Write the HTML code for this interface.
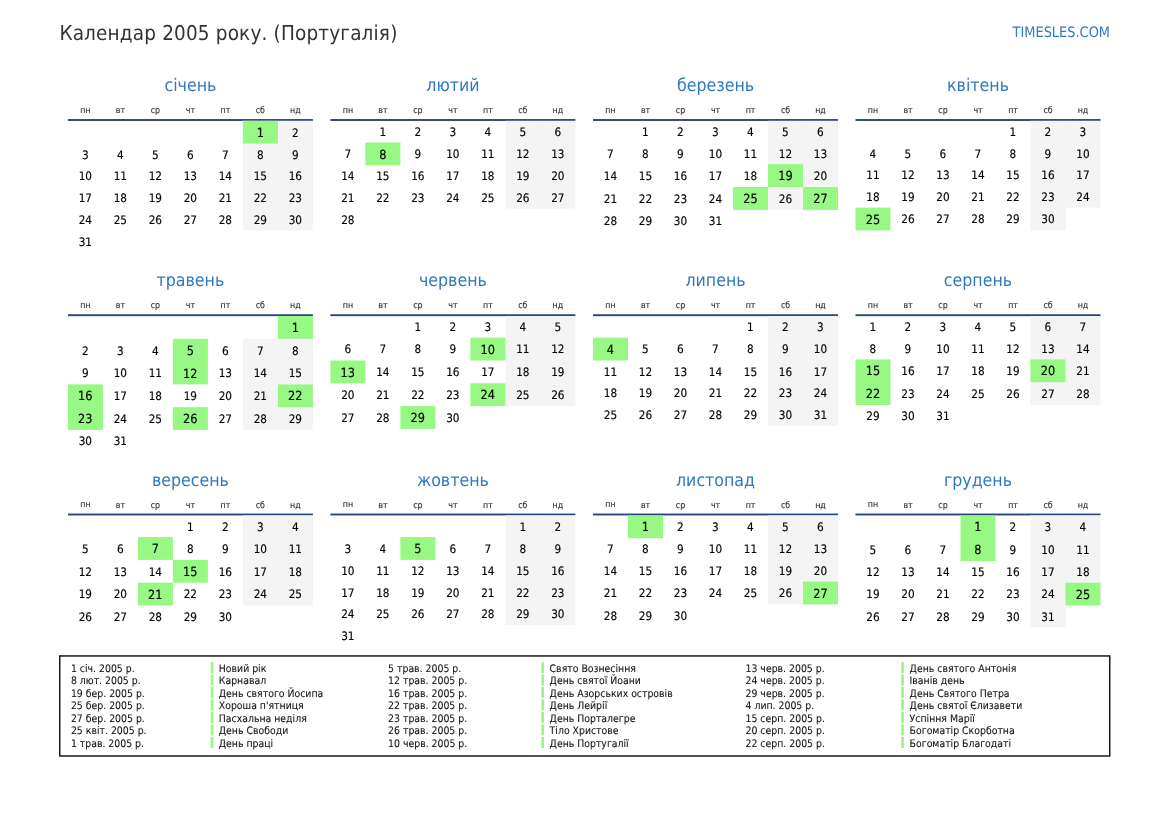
<!DOCTYPE html>
<html lang="uk"><head><meta charset="utf-8"><title>Календар 2005 року. (Португалія)</title>
<style>
html,body{margin:0;padding:0;background:#fff}
body{width:1169px;height:827px;position:relative;overflow:hidden;font-family:"DejaVu Sans Condensed", "DejaVu Sans", "Liberation Sans", sans-serif;font-stretch:condensed;text-rendering:geometricPrecision}
.t{position:absolute;white-space:nowrap;line-height:0;margin:0;padding:0}
.t::before{content:"";display:inline-block;height:24px;width:0;vertical-align:baseline}
.c{text-align:center}
.r{position:absolute}
.ttl{font-size:20.5px;color:#333;letter-spacing:.17px}
.site{font-size:14.4px;color:#2f79c0}
.mn{font-size:17.6px;color:#2f79c0}
.wd{font-size:8.75px;color:#333;-webkit-text-stroke:0.15px #333}
.d{font-size:11.67px;color:#000;-webkit-text-stroke:0.15px #000}
.h{font-size:12.6px;color:#000;-webkit-text-stroke:0.15px #000}
.l{font-size:10.4px;color:#111;-webkit-text-stroke:0.08px #111}
.ln{height:1.9px;background:#27467f}
.g{background:#97f884}
.w{background:#f4f4f4}
</style></head><body>
<svg class="r" style="left:0;top:0" width="1169" height="827" viewBox="0 0 1169 827"><rect x="67.90" y="119.05" width="245.00" height="1.9" fill="#27467f"/><rect x="242.90" y="120.80" width="35.60" height="109.60" fill="#f4f4f4"/><rect x="277.90" y="120.80" width="35.00" height="109.60" fill="#f4f4f4"/><rect x="242.90" y="120.80" width="35.00" height="22.80" fill="#97f884"/><rect x="330.40" y="119.05" width="245.00" height="1.9" fill="#27467f"/><rect x="505.40" y="120.80" width="35.60" height="87.90" fill="#f4f4f4"/><rect x="540.40" y="120.80" width="35.00" height="87.90" fill="#f4f4f4"/><rect x="365.40" y="142.50" width="35.00" height="22.80" fill="#97f884"/><rect x="593.00" y="119.05" width="245.00" height="1.9" fill="#27467f"/><rect x="768.00" y="120.80" width="35.60" height="89.00" fill="#f4f4f4"/><rect x="803.00" y="120.80" width="35.00" height="89.00" fill="#f4f4f4"/><rect x="733.00" y="187.00" width="35.00" height="22.80" fill="#97f884"/><rect x="768.00" y="164.20" width="35.00" height="22.80" fill="#97f884"/><rect x="803.00" y="187.00" width="35.00" height="22.80" fill="#97f884"/><rect x="855.50" y="119.05" width="245.00" height="1.9" fill="#27467f"/><rect x="1030.50" y="120.80" width="35.60" height="109.60" fill="#f4f4f4"/><rect x="1065.50" y="120.80" width="35.00" height="86.80" fill="#f4f4f4"/><rect x="855.50" y="207.60" width="35.00" height="22.80" fill="#97f884"/><rect x="67.90" y="314.25" width="245.00" height="1.9" fill="#27467f"/><rect x="242.90" y="338.80" width="35.60" height="91.20" fill="#f4f4f4"/><rect x="277.90" y="316.00" width="35.00" height="114.00" fill="#f4f4f4"/><rect x="67.90" y="384.40" width="35.00" height="45.60" fill="#97f884"/><rect x="172.90" y="338.80" width="35.00" height="45.60" fill="#97f884"/><rect x="172.90" y="407.20" width="35.00" height="22.80" fill="#97f884"/><rect x="277.90" y="316.00" width="35.00" height="22.80" fill="#97f884"/><rect x="277.90" y="384.40" width="35.00" height="22.80" fill="#97f884"/><rect x="330.40" y="314.25" width="245.00" height="1.9" fill="#27467f"/><rect x="505.40" y="316.00" width="35.60" height="90.10" fill="#f4f4f4"/><rect x="540.40" y="316.00" width="35.00" height="90.10" fill="#f4f4f4"/><rect x="330.40" y="360.50" width="35.00" height="22.80" fill="#97f884"/><rect x="400.40" y="406.10" width="35.00" height="22.80" fill="#97f884"/><rect x="470.40" y="337.70" width="35.00" height="22.80" fill="#97f884"/><rect x="470.40" y="383.30" width="35.00" height="22.80" fill="#97f884"/><rect x="593.00" y="314.25" width="245.00" height="1.9" fill="#27467f"/><rect x="768.00" y="316.00" width="35.60" height="109.60" fill="#f4f4f4"/><rect x="803.00" y="316.00" width="35.00" height="109.60" fill="#f4f4f4"/><rect x="593.00" y="337.70" width="35.00" height="22.80" fill="#97f884"/><rect x="855.50" y="314.25" width="245.00" height="1.9" fill="#27467f"/><rect x="1030.50" y="316.00" width="35.60" height="89.00" fill="#f4f4f4"/><rect x="1065.50" y="316.00" width="35.00" height="89.00" fill="#f4f4f4"/><rect x="855.50" y="359.40" width="35.00" height="45.60" fill="#97f884"/><rect x="1030.50" y="359.40" width="35.00" height="22.80" fill="#97f884"/><rect x="67.90" y="513.55" width="245.00" height="1.9" fill="#27467f"/><rect x="242.90" y="515.40" width="35.60" height="90.10" fill="#f4f4f4"/><rect x="277.90" y="515.40" width="35.00" height="90.10" fill="#f4f4f4"/><rect x="137.90" y="537.10" width="35.00" height="22.80" fill="#97f884"/><rect x="137.90" y="582.70" width="35.00" height="22.80" fill="#97f884"/><rect x="172.90" y="559.90" width="35.00" height="22.80" fill="#97f884"/><rect x="330.40" y="513.55" width="245.00" height="1.9" fill="#27467f"/><rect x="505.40" y="515.40" width="35.60" height="109.60" fill="#f4f4f4"/><rect x="540.40" y="515.40" width="35.00" height="109.60" fill="#f4f4f4"/><rect x="400.40" y="537.10" width="35.00" height="22.80" fill="#97f884"/><rect x="593.00" y="513.55" width="245.00" height="1.9" fill="#27467f"/><rect x="768.00" y="515.40" width="35.60" height="89.00" fill="#f4f4f4"/><rect x="803.00" y="515.40" width="35.00" height="89.00" fill="#f4f4f4"/><rect x="628.00" y="515.40" width="35.00" height="22.80" fill="#97f884"/><rect x="803.00" y="581.60" width="35.00" height="22.80" fill="#97f884"/><rect x="855.50" y="513.55" width="245.00" height="1.9" fill="#27467f"/><rect x="1030.50" y="515.40" width="35.60" height="111.80" fill="#f4f4f4"/><rect x="1065.50" y="515.40" width="35.00" height="90.10" fill="#f4f4f4"/><rect x="960.50" y="515.40" width="35.00" height="45.60" fill="#97f884"/><rect x="1065.50" y="582.70" width="35.00" height="22.80" fill="#97f884"/><rect x="59.75" y="655.95" width="1050" height="100.05" fill="none" stroke="#1a1a1a" stroke-width="1.5"/><rect x="210.70" y="662.20" width="2.7" height="11.0" fill="#97f884"/><rect x="210.70" y="674.50" width="2.7" height="11.0" fill="#97f884"/><rect x="210.70" y="686.90" width="2.7" height="11.0" fill="#97f884"/><rect x="210.70" y="699.40" width="2.7" height="11.0" fill="#97f884"/><rect x="210.70" y="712.00" width="2.7" height="11.0" fill="#97f884"/><rect x="210.70" y="724.40" width="2.7" height="11.0" fill="#97f884"/><rect x="210.70" y="737.00" width="2.7" height="11.0" fill="#97f884"/><rect x="541.40" y="662.20" width="2.7" height="11.0" fill="#97f884"/><rect x="541.40" y="674.50" width="2.7" height="11.0" fill="#97f884"/><rect x="541.40" y="686.90" width="2.7" height="11.0" fill="#97f884"/><rect x="541.40" y="699.40" width="2.7" height="11.0" fill="#97f884"/><rect x="541.40" y="712.00" width="2.7" height="11.0" fill="#97f884"/><rect x="541.40" y="724.40" width="2.7" height="11.0" fill="#97f884"/><rect x="541.40" y="737.00" width="2.7" height="11.0" fill="#97f884"/><rect x="901.20" y="662.20" width="2.7" height="11.0" fill="#97f884"/><rect x="901.20" y="674.50" width="2.7" height="11.0" fill="#97f884"/><rect x="901.20" y="686.90" width="2.7" height="11.0" fill="#97f884"/><rect x="901.20" y="699.40" width="2.7" height="11.0" fill="#97f884"/><rect x="901.20" y="712.00" width="2.7" height="11.0" fill="#97f884"/><rect x="901.20" y="724.40" width="2.7" height="11.0" fill="#97f884"/><rect x="901.20" y="737.00" width="2.7" height="11.0" fill="#97f884"/></svg>
<div class="t ttl" style="top:15.80px;left:59.40px">Календар 2005 року. (Португалія)</div>
<div class="t site" style="top:12.80px;right:59.00px">TIMESLES.COM</div>
<!-- січень -->
<div class="t mn c" style="top:66.70px;left:67.90px;width:245.00px">січень</div>
<div class="t wd c" style="top:88.70px;left:67.90px;width:35.00px">пн</div>
<div class="t wd c" style="top:88.70px;left:102.90px;width:35.00px">вт</div>
<div class="t wd c" style="top:88.70px;left:137.90px;width:35.00px">ср</div>
<div class="t wd c" style="top:88.70px;left:172.90px;width:35.00px">чт</div>
<div class="t wd c" style="top:88.70px;left:207.90px;width:35.00px">пт</div>
<div class="t wd c" style="top:88.70px;left:242.90px;width:35.00px">сб</div>
<div class="t wd c" style="top:88.70px;left:277.90px;width:35.00px">нд</div>
<div class="t h c" style="top:113.00px;left:242.80px;width:35.00px">1</div>
<div class="t d c" style="top:113.00px;left:277.80px;width:35.00px">2</div>
<div class="t d c" style="top:135.00px;left:67.80px;width:35.00px">3</div>
<div class="t d c" style="top:135.00px;left:102.80px;width:35.00px">4</div>
<div class="t d c" style="top:135.00px;left:137.80px;width:35.00px">5</div>
<div class="t d c" style="top:135.00px;left:172.80px;width:35.00px">6</div>
<div class="t d c" style="top:135.00px;left:207.80px;width:35.00px">7</div>
<div class="t d c" style="top:135.00px;left:242.80px;width:35.00px">8</div>
<div class="t d c" style="top:135.00px;left:277.80px;width:35.00px">9</div>
<div class="t d c" style="top:156.00px;left:67.80px;width:35.00px">10</div>
<div class="t d c" style="top:156.00px;left:102.80px;width:35.00px">11</div>
<div class="t d c" style="top:156.00px;left:137.80px;width:35.00px">12</div>
<div class="t d c" style="top:156.00px;left:172.80px;width:35.00px">13</div>
<div class="t d c" style="top:156.00px;left:207.80px;width:35.00px">14</div>
<div class="t d c" style="top:156.00px;left:242.80px;width:35.00px">15</div>
<div class="t d c" style="top:156.00px;left:277.80px;width:35.00px">16</div>
<div class="t d c" style="top:178.00px;left:67.80px;width:35.00px">17</div>
<div class="t d c" style="top:178.00px;left:102.80px;width:35.00px">18</div>
<div class="t d c" style="top:178.00px;left:137.80px;width:35.00px">19</div>
<div class="t d c" style="top:178.00px;left:172.80px;width:35.00px">20</div>
<div class="t d c" style="top:178.00px;left:207.80px;width:35.00px">21</div>
<div class="t d c" style="top:178.00px;left:242.80px;width:35.00px">22</div>
<div class="t d c" style="top:178.00px;left:277.80px;width:35.00px">23</div>
<div class="t d c" style="top:200.00px;left:67.80px;width:35.00px">24</div>
<div class="t d c" style="top:200.00px;left:102.80px;width:35.00px">25</div>
<div class="t d c" style="top:200.00px;left:137.80px;width:35.00px">26</div>
<div class="t d c" style="top:200.00px;left:172.80px;width:35.00px">27</div>
<div class="t d c" style="top:200.00px;left:207.80px;width:35.00px">28</div>
<div class="t d c" style="top:200.00px;left:242.80px;width:35.00px">29</div>
<div class="t d c" style="top:200.00px;left:277.80px;width:35.00px">30</div>
<div class="t d c" style="top:222.00px;left:67.80px;width:35.00px">31</div>
<!-- лютий -->
<div class="t mn c" style="top:66.70px;left:330.40px;width:245.00px">лютий</div>
<div class="t wd c" style="top:88.70px;left:330.40px;width:35.00px">пн</div>
<div class="t wd c" style="top:88.70px;left:365.40px;width:35.00px">вт</div>
<div class="t wd c" style="top:88.70px;left:400.40px;width:35.00px">ср</div>
<div class="t wd c" style="top:88.70px;left:435.40px;width:35.00px">чт</div>
<div class="t wd c" style="top:88.70px;left:470.40px;width:35.00px">пт</div>
<div class="t wd c" style="top:88.70px;left:505.40px;width:35.00px">сб</div>
<div class="t wd c" style="top:88.70px;left:540.40px;width:35.00px">нд</div>
<div class="t d c" style="top:112.00px;left:365.30px;width:35.00px">1</div>
<div class="t d c" style="top:112.00px;left:400.30px;width:35.00px">2</div>
<div class="t d c" style="top:112.00px;left:435.30px;width:35.00px">3</div>
<div class="t d c" style="top:112.00px;left:470.30px;width:35.00px">4</div>
<div class="t d c" style="top:112.00px;left:505.30px;width:35.00px">5</div>
<div class="t d c" style="top:112.00px;left:540.30px;width:35.00px">6</div>
<div class="t d c" style="top:134.00px;left:330.30px;width:35.00px">7</div>
<div class="t h c" style="top:135.00px;left:365.30px;width:35.00px">8</div>
<div class="t d c" style="top:134.00px;left:400.30px;width:35.00px">9</div>
<div class="t d c" style="top:134.00px;left:435.30px;width:35.00px">10</div>
<div class="t d c" style="top:134.00px;left:470.30px;width:35.00px">11</div>
<div class="t d c" style="top:134.00px;left:505.30px;width:35.00px">12</div>
<div class="t d c" style="top:134.00px;left:540.30px;width:35.00px">13</div>
<div class="t d c" style="top:156.00px;left:330.30px;width:35.00px">14</div>
<div class="t d c" style="top:156.00px;left:365.30px;width:35.00px">15</div>
<div class="t d c" style="top:156.00px;left:400.30px;width:35.00px">16</div>
<div class="t d c" style="top:156.00px;left:435.30px;width:35.00px">17</div>
<div class="t d c" style="top:156.00px;left:470.30px;width:35.00px">18</div>
<div class="t d c" style="top:156.00px;left:505.30px;width:35.00px">19</div>
<div class="t d c" style="top:156.00px;left:540.30px;width:35.00px">20</div>
<div class="t d c" style="top:178.00px;left:330.30px;width:35.00px">21</div>
<div class="t d c" style="top:178.00px;left:365.30px;width:35.00px">22</div>
<div class="t d c" style="top:178.00px;left:400.30px;width:35.00px">23</div>
<div class="t d c" style="top:178.00px;left:435.30px;width:35.00px">24</div>
<div class="t d c" style="top:178.00px;left:470.30px;width:35.00px">25</div>
<div class="t d c" style="top:178.00px;left:505.30px;width:35.00px">26</div>
<div class="t d c" style="top:178.00px;left:540.30px;width:35.00px">27</div>
<div class="t d c" style="top:200.00px;left:330.30px;width:35.00px">28</div>
<!-- березень -->
<div class="t mn c" style="top:66.70px;left:593.00px;width:245.00px">березень</div>
<div class="t wd c" style="top:88.70px;left:593.00px;width:35.00px">пн</div>
<div class="t wd c" style="top:88.70px;left:628.00px;width:35.00px">вт</div>
<div class="t wd c" style="top:88.70px;left:663.00px;width:35.00px">ср</div>
<div class="t wd c" style="top:88.70px;left:698.00px;width:35.00px">чт</div>
<div class="t wd c" style="top:88.70px;left:733.00px;width:35.00px">пт</div>
<div class="t wd c" style="top:88.70px;left:768.00px;width:35.00px">сб</div>
<div class="t wd c" style="top:88.70px;left:803.00px;width:35.00px">нд</div>
<div class="t d c" style="top:112.00px;left:627.90px;width:35.00px">1</div>
<div class="t d c" style="top:112.00px;left:662.90px;width:35.00px">2</div>
<div class="t d c" style="top:112.00px;left:697.90px;width:35.00px">3</div>
<div class="t d c" style="top:112.00px;left:732.90px;width:35.00px">4</div>
<div class="t d c" style="top:112.00px;left:767.90px;width:35.00px">5</div>
<div class="t d c" style="top:112.00px;left:802.90px;width:35.00px">6</div>
<div class="t d c" style="top:134.00px;left:592.90px;width:35.00px">7</div>
<div class="t d c" style="top:134.00px;left:627.90px;width:35.00px">8</div>
<div class="t d c" style="top:134.00px;left:662.90px;width:35.00px">9</div>
<div class="t d c" style="top:134.00px;left:697.90px;width:35.00px">10</div>
<div class="t d c" style="top:134.00px;left:732.90px;width:35.00px">11</div>
<div class="t d c" style="top:134.00px;left:767.90px;width:35.00px">12</div>
<div class="t d c" style="top:134.00px;left:802.90px;width:35.00px">13</div>
<div class="t d c" style="top:156.00px;left:592.90px;width:35.00px">14</div>
<div class="t d c" style="top:156.00px;left:627.90px;width:35.00px">15</div>
<div class="t d c" style="top:156.00px;left:662.90px;width:35.00px">16</div>
<div class="t d c" style="top:156.00px;left:697.90px;width:35.00px">17</div>
<div class="t d c" style="top:156.00px;left:732.90px;width:35.00px">18</div>
<div class="t h c" style="top:156.00px;left:767.90px;width:35.00px">19</div>
<div class="t d c" style="top:156.00px;left:802.90px;width:35.00px">20</div>
<div class="t d c" style="top:179.00px;left:592.90px;width:35.00px">21</div>
<div class="t d c" style="top:179.00px;left:627.90px;width:35.00px">22</div>
<div class="t d c" style="top:179.00px;left:662.90px;width:35.00px">23</div>
<div class="t d c" style="top:179.00px;left:697.90px;width:35.00px">24</div>
<div class="t h c" style="top:179.00px;left:732.90px;width:35.00px">25</div>
<div class="t d c" style="top:179.00px;left:767.90px;width:35.00px">26</div>
<div class="t h c" style="top:179.00px;left:802.90px;width:35.00px">27</div>
<div class="t d c" style="top:201.00px;left:592.90px;width:35.00px">28</div>
<div class="t d c" style="top:201.00px;left:627.90px;width:35.00px">29</div>
<div class="t d c" style="top:201.00px;left:662.90px;width:35.00px">30</div>
<div class="t d c" style="top:201.00px;left:697.90px;width:35.00px">31</div>
<!-- квітень -->
<div class="t mn c" style="top:66.70px;left:855.50px;width:245.00px">квітень</div>
<div class="t wd c" style="top:88.70px;left:855.50px;width:35.00px">пн</div>
<div class="t wd c" style="top:88.70px;left:890.50px;width:35.00px">вт</div>
<div class="t wd c" style="top:88.70px;left:925.50px;width:35.00px">ср</div>
<div class="t wd c" style="top:88.70px;left:960.50px;width:35.00px">чт</div>
<div class="t wd c" style="top:88.70px;left:995.50px;width:35.00px">пт</div>
<div class="t wd c" style="top:88.70px;left:1030.50px;width:35.00px">сб</div>
<div class="t wd c" style="top:88.70px;left:1065.50px;width:35.00px">нд</div>
<div class="t d c" style="top:112.00px;left:995.40px;width:35.00px">1</div>
<div class="t d c" style="top:112.00px;left:1030.40px;width:35.00px">2</div>
<div class="t d c" style="top:112.00px;left:1065.40px;width:35.00px">3</div>
<div class="t d c" style="top:134.00px;left:855.40px;width:35.00px">4</div>
<div class="t d c" style="top:134.00px;left:890.40px;width:35.00px">5</div>
<div class="t d c" style="top:134.00px;left:925.40px;width:35.00px">6</div>
<div class="t d c" style="top:134.00px;left:960.40px;width:35.00px">7</div>
<div class="t d c" style="top:134.00px;left:995.40px;width:35.00px">8</div>
<div class="t d c" style="top:134.00px;left:1030.40px;width:35.00px">9</div>
<div class="t d c" style="top:134.00px;left:1065.40px;width:35.00px">10</div>
<div class="t d c" style="top:155.00px;left:855.40px;width:35.00px">11</div>
<div class="t d c" style="top:155.00px;left:890.40px;width:35.00px">12</div>
<div class="t d c" style="top:155.00px;left:925.40px;width:35.00px">13</div>
<div class="t d c" style="top:155.00px;left:960.40px;width:35.00px">14</div>
<div class="t d c" style="top:155.00px;left:995.40px;width:35.00px">15</div>
<div class="t d c" style="top:155.00px;left:1030.40px;width:35.00px">16</div>
<div class="t d c" style="top:155.00px;left:1065.40px;width:35.00px">17</div>
<div class="t d c" style="top:177.00px;left:855.40px;width:35.00px">18</div>
<div class="t d c" style="top:177.00px;left:890.40px;width:35.00px">19</div>
<div class="t d c" style="top:177.00px;left:925.40px;width:35.00px">20</div>
<div class="t d c" style="top:177.00px;left:960.40px;width:35.00px">21</div>
<div class="t d c" style="top:177.00px;left:995.40px;width:35.00px">22</div>
<div class="t d c" style="top:177.00px;left:1030.40px;width:35.00px">23</div>
<div class="t d c" style="top:177.00px;left:1065.40px;width:35.00px">24</div>
<div class="t h c" style="top:200.00px;left:855.40px;width:35.00px">25</div>
<div class="t d c" style="top:199.00px;left:890.40px;width:35.00px">26</div>
<div class="t d c" style="top:199.00px;left:925.40px;width:35.00px">27</div>
<div class="t d c" style="top:199.00px;left:960.40px;width:35.00px">28</div>
<div class="t d c" style="top:199.00px;left:995.40px;width:35.00px">29</div>
<div class="t d c" style="top:199.00px;left:1030.40px;width:35.00px">30</div>
<!-- травень -->
<div class="t mn c" style="top:261.90px;left:67.90px;width:245.00px">травень</div>
<div class="t wd c" style="top:283.80px;left:67.90px;width:35.00px">пн</div>
<div class="t wd c" style="top:283.80px;left:102.90px;width:35.00px">вт</div>
<div class="t wd c" style="top:283.80px;left:137.90px;width:35.00px">ср</div>
<div class="t wd c" style="top:283.80px;left:172.90px;width:35.00px">чт</div>
<div class="t wd c" style="top:283.80px;left:207.90px;width:35.00px">пт</div>
<div class="t wd c" style="top:283.80px;left:242.90px;width:35.00px">сб</div>
<div class="t wd c" style="top:283.80px;left:277.90px;width:35.00px">нд</div>
<div class="t h c" style="top:308.00px;left:277.80px;width:35.00px">1</div>
<div class="t d c" style="top:331.00px;left:67.80px;width:35.00px">2</div>
<div class="t d c" style="top:331.00px;left:102.80px;width:35.00px">3</div>
<div class="t d c" style="top:331.00px;left:137.80px;width:35.00px">4</div>
<div class="t h c" style="top:331.00px;left:172.80px;width:35.00px">5</div>
<div class="t d c" style="top:331.00px;left:207.80px;width:35.00px">6</div>
<div class="t d c" style="top:331.00px;left:242.80px;width:35.00px">7</div>
<div class="t d c" style="top:331.00px;left:277.80px;width:35.00px">8</div>
<div class="t d c" style="top:353.00px;left:67.80px;width:35.00px">9</div>
<div class="t d c" style="top:353.00px;left:102.80px;width:35.00px">10</div>
<div class="t d c" style="top:353.00px;left:137.80px;width:35.00px">11</div>
<div class="t h c" style="top:354.00px;left:172.80px;width:35.00px">12</div>
<div class="t d c" style="top:353.00px;left:207.80px;width:35.00px">13</div>
<div class="t d c" style="top:353.00px;left:242.80px;width:35.00px">14</div>
<div class="t d c" style="top:353.00px;left:277.80px;width:35.00px">15</div>
<div class="t h c" style="top:376.00px;left:67.80px;width:35.00px">16</div>
<div class="t d c" style="top:376.00px;left:102.80px;width:35.00px">17</div>
<div class="t d c" style="top:376.00px;left:137.80px;width:35.00px">18</div>
<div class="t d c" style="top:376.00px;left:172.80px;width:35.00px">19</div>
<div class="t d c" style="top:376.00px;left:207.80px;width:35.00px">20</div>
<div class="t d c" style="top:376.00px;left:242.80px;width:35.00px">21</div>
<div class="t h c" style="top:376.00px;left:277.80px;width:35.00px">22</div>
<div class="t h c" style="top:399.00px;left:67.80px;width:35.00px">23</div>
<div class="t d c" style="top:399.00px;left:102.80px;width:35.00px">24</div>
<div class="t d c" style="top:399.00px;left:137.80px;width:35.00px">25</div>
<div class="t h c" style="top:399.00px;left:172.80px;width:35.00px">26</div>
<div class="t d c" style="top:399.00px;left:207.80px;width:35.00px">27</div>
<div class="t d c" style="top:399.00px;left:242.80px;width:35.00px">28</div>
<div class="t d c" style="top:399.00px;left:277.80px;width:35.00px">29</div>
<div class="t d c" style="top:421.00px;left:67.80px;width:35.00px">30</div>
<div class="t d c" style="top:421.00px;left:102.80px;width:35.00px">31</div>
<!-- червень -->
<div class="t mn c" style="top:261.90px;left:330.40px;width:245.00px">червень</div>
<div class="t wd c" style="top:283.80px;left:330.40px;width:35.00px">пн</div>
<div class="t wd c" style="top:283.80px;left:365.40px;width:35.00px">вт</div>
<div class="t wd c" style="top:283.80px;left:400.40px;width:35.00px">ср</div>
<div class="t wd c" style="top:283.80px;left:435.40px;width:35.00px">чт</div>
<div class="t wd c" style="top:283.80px;left:470.40px;width:35.00px">пт</div>
<div class="t wd c" style="top:283.80px;left:505.40px;width:35.00px">сб</div>
<div class="t wd c" style="top:283.80px;left:540.40px;width:35.00px">нд</div>
<div class="t d c" style="top:307.00px;left:400.30px;width:35.00px">1</div>
<div class="t d c" style="top:307.00px;left:435.30px;width:35.00px">2</div>
<div class="t d c" style="top:307.00px;left:470.30px;width:35.00px">3</div>
<div class="t d c" style="top:307.00px;left:505.30px;width:35.00px">4</div>
<div class="t d c" style="top:307.00px;left:540.30px;width:35.00px">5</div>
<div class="t d c" style="top:329.00px;left:330.30px;width:35.00px">6</div>
<div class="t d c" style="top:329.00px;left:365.30px;width:35.00px">7</div>
<div class="t d c" style="top:329.00px;left:400.30px;width:35.00px">8</div>
<div class="t d c" style="top:329.00px;left:435.30px;width:35.00px">9</div>
<div class="t h c" style="top:330.00px;left:470.30px;width:35.00px">10</div>
<div class="t d c" style="top:329.00px;left:505.30px;width:35.00px">11</div>
<div class="t d c" style="top:329.00px;left:540.30px;width:35.00px">12</div>
<div class="t h c" style="top:353.00px;left:330.30px;width:35.00px">13</div>
<div class="t d c" style="top:352.00px;left:365.30px;width:35.00px">14</div>
<div class="t d c" style="top:352.00px;left:400.30px;width:35.00px">15</div>
<div class="t d c" style="top:352.00px;left:435.30px;width:35.00px">16</div>
<div class="t d c" style="top:352.00px;left:470.30px;width:35.00px">17</div>
<div class="t d c" style="top:352.00px;left:505.30px;width:35.00px">18</div>
<div class="t d c" style="top:352.00px;left:540.30px;width:35.00px">19</div>
<div class="t d c" style="top:375.00px;left:330.30px;width:35.00px">20</div>
<div class="t d c" style="top:375.00px;left:365.30px;width:35.00px">21</div>
<div class="t d c" style="top:375.00px;left:400.30px;width:35.00px">22</div>
<div class="t d c" style="top:375.00px;left:435.30px;width:35.00px">23</div>
<div class="t h c" style="top:375.00px;left:470.30px;width:35.00px">24</div>
<div class="t d c" style="top:375.00px;left:505.30px;width:35.00px">25</div>
<div class="t d c" style="top:375.00px;left:540.30px;width:35.00px">26</div>
<div class="t d c" style="top:398.00px;left:330.30px;width:35.00px">27</div>
<div class="t d c" style="top:398.00px;left:365.30px;width:35.00px">28</div>
<div class="t h c" style="top:398.00px;left:400.30px;width:35.00px">29</div>
<div class="t d c" style="top:398.00px;left:435.30px;width:35.00px">30</div>
<!-- липень -->
<div class="t mn c" style="top:261.90px;left:593.00px;width:245.00px">липень</div>
<div class="t wd c" style="top:283.80px;left:593.00px;width:35.00px">пн</div>
<div class="t wd c" style="top:283.80px;left:628.00px;width:35.00px">вт</div>
<div class="t wd c" style="top:283.80px;left:663.00px;width:35.00px">ср</div>
<div class="t wd c" style="top:283.80px;left:698.00px;width:35.00px">чт</div>
<div class="t wd c" style="top:283.80px;left:733.00px;width:35.00px">пт</div>
<div class="t wd c" style="top:283.80px;left:768.00px;width:35.00px">сб</div>
<div class="t wd c" style="top:283.80px;left:803.00px;width:35.00px">нд</div>
<div class="t d c" style="top:307.00px;left:732.90px;width:35.00px">1</div>
<div class="t d c" style="top:307.00px;left:767.90px;width:35.00px">2</div>
<div class="t d c" style="top:307.00px;left:802.90px;width:35.00px">3</div>
<div class="t h c" style="top:330.00px;left:592.90px;width:35.00px">4</div>
<div class="t d c" style="top:329.00px;left:627.90px;width:35.00px">5</div>
<div class="t d c" style="top:329.00px;left:662.90px;width:35.00px">6</div>
<div class="t d c" style="top:329.00px;left:697.90px;width:35.00px">7</div>
<div class="t d c" style="top:329.00px;left:732.90px;width:35.00px">8</div>
<div class="t d c" style="top:329.00px;left:767.90px;width:35.00px">9</div>
<div class="t d c" style="top:329.00px;left:802.90px;width:35.00px">10</div>
<div class="t d c" style="top:352.00px;left:592.90px;width:35.00px">11</div>
<div class="t d c" style="top:352.00px;left:627.90px;width:35.00px">12</div>
<div class="t d c" style="top:352.00px;left:662.90px;width:35.00px">13</div>
<div class="t d c" style="top:352.00px;left:697.90px;width:35.00px">14</div>
<div class="t d c" style="top:352.00px;left:732.90px;width:35.00px">15</div>
<div class="t d c" style="top:352.00px;left:767.90px;width:35.00px">16</div>
<div class="t d c" style="top:352.00px;left:802.90px;width:35.00px">17</div>
<div class="t d c" style="top:373.00px;left:592.90px;width:35.00px">18</div>
<div class="t d c" style="top:373.00px;left:627.90px;width:35.00px">19</div>
<div class="t d c" style="top:373.00px;left:662.90px;width:35.00px">20</div>
<div class="t d c" style="top:373.00px;left:697.90px;width:35.00px">21</div>
<div class="t d c" style="top:373.00px;left:732.90px;width:35.00px">22</div>
<div class="t d c" style="top:373.00px;left:767.90px;width:35.00px">23</div>
<div class="t d c" style="top:373.00px;left:802.90px;width:35.00px">24</div>
<div class="t d c" style="top:395.00px;left:592.90px;width:35.00px">25</div>
<div class="t d c" style="top:395.00px;left:627.90px;width:35.00px">26</div>
<div class="t d c" style="top:395.00px;left:662.90px;width:35.00px">27</div>
<div class="t d c" style="top:395.00px;left:697.90px;width:35.00px">28</div>
<div class="t d c" style="top:395.00px;left:732.90px;width:35.00px">29</div>
<div class="t d c" style="top:395.00px;left:767.90px;width:35.00px">30</div>
<div class="t d c" style="top:395.00px;left:802.90px;width:35.00px">31</div>
<!-- серпень -->
<div class="t mn c" style="top:261.90px;left:855.50px;width:245.00px">серпень</div>
<div class="t wd c" style="top:283.80px;left:855.50px;width:35.00px">пн</div>
<div class="t wd c" style="top:283.80px;left:890.50px;width:35.00px">вт</div>
<div class="t wd c" style="top:283.80px;left:925.50px;width:35.00px">ср</div>
<div class="t wd c" style="top:283.80px;left:960.50px;width:35.00px">чт</div>
<div class="t wd c" style="top:283.80px;left:995.50px;width:35.00px">пт</div>
<div class="t wd c" style="top:283.80px;left:1030.50px;width:35.00px">сб</div>
<div class="t wd c" style="top:283.80px;left:1065.50px;width:35.00px">нд</div>
<div class="t d c" style="top:307.00px;left:855.40px;width:35.00px">1</div>
<div class="t d c" style="top:307.00px;left:890.40px;width:35.00px">2</div>
<div class="t d c" style="top:307.00px;left:925.40px;width:35.00px">3</div>
<div class="t d c" style="top:307.00px;left:960.40px;width:35.00px">4</div>
<div class="t d c" style="top:307.00px;left:995.40px;width:35.00px">5</div>
<div class="t d c" style="top:307.00px;left:1030.40px;width:35.00px">6</div>
<div class="t d c" style="top:307.00px;left:1065.40px;width:35.00px">7</div>
<div class="t d c" style="top:329.00px;left:855.40px;width:35.00px">8</div>
<div class="t d c" style="top:329.00px;left:890.40px;width:35.00px">9</div>
<div class="t d c" style="top:329.00px;left:925.40px;width:35.00px">10</div>
<div class="t d c" style="top:329.00px;left:960.40px;width:35.00px">11</div>
<div class="t d c" style="top:329.00px;left:995.40px;width:35.00px">12</div>
<div class="t d c" style="top:329.00px;left:1030.40px;width:35.00px">13</div>
<div class="t d c" style="top:329.00px;left:1065.40px;width:35.00px">14</div>
<div class="t h c" style="top:351.00px;left:855.40px;width:35.00px">15</div>
<div class="t d c" style="top:351.00px;left:890.40px;width:35.00px">16</div>
<div class="t d c" style="top:351.00px;left:925.40px;width:35.00px">17</div>
<div class="t d c" style="top:351.00px;left:960.40px;width:35.00px">18</div>
<div class="t d c" style="top:351.00px;left:995.40px;width:35.00px">19</div>
<div class="t h c" style="top:351.00px;left:1030.40px;width:35.00px">20</div>
<div class="t d c" style="top:351.00px;left:1065.40px;width:35.00px">21</div>
<div class="t h c" style="top:374.00px;left:855.40px;width:35.00px">22</div>
<div class="t d c" style="top:374.00px;left:890.40px;width:35.00px">23</div>
<div class="t d c" style="top:374.00px;left:925.40px;width:35.00px">24</div>
<div class="t d c" style="top:374.00px;left:960.40px;width:35.00px">25</div>
<div class="t d c" style="top:374.00px;left:995.40px;width:35.00px">26</div>
<div class="t d c" style="top:374.00px;left:1030.40px;width:35.00px">27</div>
<div class="t d c" style="top:374.00px;left:1065.40px;width:35.00px">28</div>
<div class="t d c" style="top:396.00px;left:855.40px;width:35.00px">29</div>
<div class="t d c" style="top:396.00px;left:890.40px;width:35.00px">30</div>
<div class="t d c" style="top:396.00px;left:925.40px;width:35.00px">31</div>
<!-- вересень -->
<div class="t mn c" style="top:461.80px;left:67.90px;width:245.00px">вересень</div>
<div class="t wd c" style="top:482.50px;left:67.90px;width:35.00px">пн</div>
<div class="t wd c" style="top:483.70px;left:102.90px;width:35.00px">вт</div>
<div class="t wd c" style="top:483.70px;left:137.90px;width:35.00px">ср</div>
<div class="t wd c" style="top:483.70px;left:172.90px;width:35.00px">чт</div>
<div class="t wd c" style="top:483.70px;left:207.90px;width:35.00px">пт</div>
<div class="t wd c" style="top:483.70px;left:242.90px;width:35.00px">сб</div>
<div class="t wd c" style="top:483.70px;left:277.90px;width:35.00px">нд</div>
<div class="t d c" style="top:507.00px;left:172.80px;width:35.00px">1</div>
<div class="t d c" style="top:507.00px;left:207.80px;width:35.00px">2</div>
<div class="t d c" style="top:507.00px;left:242.80px;width:35.00px">3</div>
<div class="t d c" style="top:507.00px;left:277.80px;width:35.00px">4</div>
<div class="t d c" style="top:529.00px;left:67.80px;width:35.00px">5</div>
<div class="t d c" style="top:529.00px;left:102.80px;width:35.00px">6</div>
<div class="t h c" style="top:529.00px;left:137.80px;width:35.00px">7</div>
<div class="t d c" style="top:529.00px;left:172.80px;width:35.00px">8</div>
<div class="t d c" style="top:529.00px;left:207.80px;width:35.00px">9</div>
<div class="t d c" style="top:529.00px;left:242.80px;width:35.00px">10</div>
<div class="t d c" style="top:529.00px;left:277.80px;width:35.00px">11</div>
<div class="t d c" style="top:552.00px;left:67.80px;width:35.00px">12</div>
<div class="t d c" style="top:552.00px;left:102.80px;width:35.00px">13</div>
<div class="t d c" style="top:552.00px;left:137.80px;width:35.00px">14</div>
<div class="t h c" style="top:552.00px;left:172.80px;width:35.00px">15</div>
<div class="t d c" style="top:552.00px;left:207.80px;width:35.00px">16</div>
<div class="t d c" style="top:552.00px;left:242.80px;width:35.00px">17</div>
<div class="t d c" style="top:552.00px;left:277.80px;width:35.00px">18</div>
<div class="t d c" style="top:574.00px;left:67.80px;width:35.00px">19</div>
<div class="t d c" style="top:574.00px;left:102.80px;width:35.00px">20</div>
<div class="t h c" style="top:575.00px;left:137.80px;width:35.00px">21</div>
<div class="t d c" style="top:574.00px;left:172.80px;width:35.00px">22</div>
<div class="t d c" style="top:574.00px;left:207.80px;width:35.00px">23</div>
<div class="t d c" style="top:574.00px;left:242.80px;width:35.00px">24</div>
<div class="t d c" style="top:574.00px;left:277.80px;width:35.00px">25</div>
<div class="t d c" style="top:597.00px;left:67.80px;width:35.00px">26</div>
<div class="t d c" style="top:597.00px;left:102.80px;width:35.00px">27</div>
<div class="t d c" style="top:597.00px;left:137.80px;width:35.00px">28</div>
<div class="t d c" style="top:597.00px;left:172.80px;width:35.00px">29</div>
<div class="t d c" style="top:597.00px;left:207.80px;width:35.00px">30</div>
<!-- жовтень -->
<div class="t mn c" style="top:461.80px;left:330.40px;width:245.00px">жовтень</div>
<div class="t wd c" style="top:482.50px;left:330.40px;width:35.00px">пн</div>
<div class="t wd c" style="top:483.70px;left:365.40px;width:35.00px">вт</div>
<div class="t wd c" style="top:483.70px;left:400.40px;width:35.00px">ср</div>
<div class="t wd c" style="top:483.70px;left:435.40px;width:35.00px">чт</div>
<div class="t wd c" style="top:483.70px;left:470.40px;width:35.00px">пт</div>
<div class="t wd c" style="top:483.70px;left:505.40px;width:35.00px">сб</div>
<div class="t wd c" style="top:483.70px;left:540.40px;width:35.00px">нд</div>
<div class="t d c" style="top:507.00px;left:505.30px;width:35.00px">1</div>
<div class="t d c" style="top:507.00px;left:540.30px;width:35.00px">2</div>
<div class="t d c" style="top:529.00px;left:330.30px;width:35.00px">3</div>
<div class="t d c" style="top:529.00px;left:365.30px;width:35.00px">4</div>
<div class="t h c" style="top:529.00px;left:400.30px;width:35.00px">5</div>
<div class="t d c" style="top:529.00px;left:435.30px;width:35.00px">6</div>
<div class="t d c" style="top:529.00px;left:470.30px;width:35.00px">7</div>
<div class="t d c" style="top:529.00px;left:505.30px;width:35.00px">8</div>
<div class="t d c" style="top:529.00px;left:540.30px;width:35.00px">9</div>
<div class="t d c" style="top:551.00px;left:330.30px;width:35.00px">10</div>
<div class="t d c" style="top:551.00px;left:365.30px;width:35.00px">11</div>
<div class="t d c" style="top:551.00px;left:400.30px;width:35.00px">12</div>
<div class="t d c" style="top:551.00px;left:435.30px;width:35.00px">13</div>
<div class="t d c" style="top:551.00px;left:470.30px;width:35.00px">14</div>
<div class="t d c" style="top:551.00px;left:505.30px;width:35.00px">15</div>
<div class="t d c" style="top:551.00px;left:540.30px;width:35.00px">16</div>
<div class="t d c" style="top:573.00px;left:330.30px;width:35.00px">17</div>
<div class="t d c" style="top:573.00px;left:365.30px;width:35.00px">18</div>
<div class="t d c" style="top:573.00px;left:400.30px;width:35.00px">19</div>
<div class="t d c" style="top:573.00px;left:435.30px;width:35.00px">20</div>
<div class="t d c" style="top:573.00px;left:470.30px;width:35.00px">21</div>
<div class="t d c" style="top:573.00px;left:505.30px;width:35.00px">22</div>
<div class="t d c" style="top:573.00px;left:540.30px;width:35.00px">23</div>
<div class="t d c" style="top:594.00px;left:330.30px;width:35.00px">24</div>
<div class="t d c" style="top:594.00px;left:365.30px;width:35.00px">25</div>
<div class="t d c" style="top:594.00px;left:400.30px;width:35.00px">26</div>
<div class="t d c" style="top:594.00px;left:435.30px;width:35.00px">27</div>
<div class="t d c" style="top:594.00px;left:470.30px;width:35.00px">28</div>
<div class="t d c" style="top:594.00px;left:505.30px;width:35.00px">29</div>
<div class="t d c" style="top:594.00px;left:540.30px;width:35.00px">30</div>
<div class="t d c" style="top:616.00px;left:330.30px;width:35.00px">31</div>
<!-- листопад -->
<div class="t mn c" style="top:461.80px;left:593.00px;width:245.00px">листопад</div>
<div class="t wd c" style="top:482.50px;left:593.00px;width:35.00px">пн</div>
<div class="t wd c" style="top:483.70px;left:628.00px;width:35.00px">вт</div>
<div class="t wd c" style="top:483.70px;left:663.00px;width:35.00px">ср</div>
<div class="t wd c" style="top:483.70px;left:698.00px;width:35.00px">чт</div>
<div class="t wd c" style="top:483.70px;left:733.00px;width:35.00px">пт</div>
<div class="t wd c" style="top:483.70px;left:768.00px;width:35.00px">сб</div>
<div class="t wd c" style="top:483.70px;left:803.00px;width:35.00px">нд</div>
<div class="t h c" style="top:507.00px;left:627.90px;width:35.00px">1</div>
<div class="t d c" style="top:507.00px;left:662.90px;width:35.00px">2</div>
<div class="t d c" style="top:507.00px;left:697.90px;width:35.00px">3</div>
<div class="t d c" style="top:507.00px;left:732.90px;width:35.00px">4</div>
<div class="t d c" style="top:507.00px;left:767.90px;width:35.00px">5</div>
<div class="t d c" style="top:507.00px;left:802.90px;width:35.00px">6</div>
<div class="t d c" style="top:529.00px;left:592.90px;width:35.00px">7</div>
<div class="t d c" style="top:529.00px;left:627.90px;width:35.00px">8</div>
<div class="t d c" style="top:529.00px;left:662.90px;width:35.00px">9</div>
<div class="t d c" style="top:529.00px;left:697.90px;width:35.00px">10</div>
<div class="t d c" style="top:529.00px;left:732.90px;width:35.00px">11</div>
<div class="t d c" style="top:529.00px;left:767.90px;width:35.00px">12</div>
<div class="t d c" style="top:529.00px;left:802.90px;width:35.00px">13</div>
<div class="t d c" style="top:551.00px;left:592.90px;width:35.00px">14</div>
<div class="t d c" style="top:551.00px;left:627.90px;width:35.00px">15</div>
<div class="t d c" style="top:551.00px;left:662.90px;width:35.00px">16</div>
<div class="t d c" style="top:551.00px;left:697.90px;width:35.00px">17</div>
<div class="t d c" style="top:551.00px;left:732.90px;width:35.00px">18</div>
<div class="t d c" style="top:551.00px;left:767.90px;width:35.00px">19</div>
<div class="t d c" style="top:551.00px;left:802.90px;width:35.00px">20</div>
<div class="t d c" style="top:573.00px;left:592.90px;width:35.00px">21</div>
<div class="t d c" style="top:573.00px;left:627.90px;width:35.00px">22</div>
<div class="t d c" style="top:573.00px;left:662.90px;width:35.00px">23</div>
<div class="t d c" style="top:573.00px;left:697.90px;width:35.00px">24</div>
<div class="t d c" style="top:573.00px;left:732.90px;width:35.00px">25</div>
<div class="t d c" style="top:573.00px;left:767.90px;width:35.00px">26</div>
<div class="t h c" style="top:574.00px;left:802.90px;width:35.00px">27</div>
<div class="t d c" style="top:596.00px;left:592.90px;width:35.00px">28</div>
<div class="t d c" style="top:596.00px;left:627.90px;width:35.00px">29</div>
<div class="t d c" style="top:596.00px;left:662.90px;width:35.00px">30</div>
<!-- грудень -->
<div class="t mn c" style="top:461.80px;left:855.50px;width:245.00px">грудень</div>
<div class="t wd c" style="top:482.50px;left:855.50px;width:35.00px">пн</div>
<div class="t wd c" style="top:483.70px;left:890.50px;width:35.00px">вт</div>
<div class="t wd c" style="top:483.70px;left:925.50px;width:35.00px">ср</div>
<div class="t wd c" style="top:483.70px;left:960.50px;width:35.00px">чт</div>
<div class="t wd c" style="top:483.70px;left:995.50px;width:35.00px">пт</div>
<div class="t wd c" style="top:483.70px;left:1030.50px;width:35.00px">сб</div>
<div class="t wd c" style="top:483.70px;left:1065.50px;width:35.00px">нд</div>
<div class="t h c" style="top:507.00px;left:960.40px;width:35.00px">1</div>
<div class="t d c" style="top:507.00px;left:995.40px;width:35.00px">2</div>
<div class="t d c" style="top:507.00px;left:1030.40px;width:35.00px">3</div>
<div class="t d c" style="top:507.00px;left:1065.40px;width:35.00px">4</div>
<div class="t d c" style="top:530.00px;left:855.40px;width:35.00px">5</div>
<div class="t d c" style="top:530.00px;left:890.40px;width:35.00px">6</div>
<div class="t d c" style="top:530.00px;left:925.40px;width:35.00px">7</div>
<div class="t h c" style="top:530.00px;left:960.40px;width:35.00px">8</div>
<div class="t d c" style="top:530.00px;left:995.40px;width:35.00px">9</div>
<div class="t d c" style="top:530.00px;left:1030.40px;width:35.00px">10</div>
<div class="t d c" style="top:530.00px;left:1065.40px;width:35.00px">11</div>
<div class="t d c" style="top:552.00px;left:855.40px;width:35.00px">12</div>
<div class="t d c" style="top:552.00px;left:890.40px;width:35.00px">13</div>
<div class="t d c" style="top:552.00px;left:925.40px;width:35.00px">14</div>
<div class="t d c" style="top:552.00px;left:960.40px;width:35.00px">15</div>
<div class="t d c" style="top:552.00px;left:995.40px;width:35.00px">16</div>
<div class="t d c" style="top:552.00px;left:1030.40px;width:35.00px">17</div>
<div class="t d c" style="top:552.00px;left:1065.40px;width:35.00px">18</div>
<div class="t d c" style="top:574.00px;left:855.40px;width:35.00px">19</div>
<div class="t d c" style="top:574.00px;left:890.40px;width:35.00px">20</div>
<div class="t d c" style="top:574.00px;left:925.40px;width:35.00px">21</div>
<div class="t d c" style="top:574.00px;left:960.40px;width:35.00px">22</div>
<div class="t d c" style="top:574.00px;left:995.40px;width:35.00px">23</div>
<div class="t d c" style="top:574.00px;left:1030.40px;width:35.00px">24</div>
<div class="t h c" style="top:575.00px;left:1065.40px;width:35.00px">25</div>
<div class="t d c" style="top:597.00px;left:855.40px;width:35.00px">26</div>
<div class="t d c" style="top:597.00px;left:890.40px;width:35.00px">27</div>
<div class="t d c" style="top:597.00px;left:925.40px;width:35.00px">28</div>
<div class="t d c" style="top:597.00px;left:960.40px;width:35.00px">29</div>
<div class="t d c" style="top:597.00px;left:995.40px;width:35.00px">30</div>
<div class="t d c" style="top:597.00px;left:1030.40px;width:35.00px">31</div>
<!-- legend -->
<div class="t l" style="top:647.80px;left:70.90px">1 січ. 2005 р.</div>
<div class="t l" style="top:647.80px;left:218.80px">Новий рік</div>
<div class="t l" style="top:660.10px;left:70.90px">8 лют. 2005 р.</div>
<div class="t l" style="top:660.10px;left:218.80px">Карнавал</div>
<div class="t l" style="top:672.50px;left:70.90px">19 бер. 2005 р.</div>
<div class="t l" style="top:672.50px;left:218.80px">День святого Йосипа</div>
<div class="t l" style="top:685.00px;left:70.90px">25 бер. 2005 р.</div>
<div class="t l" style="top:685.00px;left:218.80px">Хороша п'ятниця</div>
<div class="t l" style="top:697.60px;left:70.90px">27 бер. 2005 р.</div>
<div class="t l" style="top:697.60px;left:218.80px">Пасхальна неділя</div>
<div class="t l" style="top:710.00px;left:70.90px">25 квіт. 2005 р.</div>
<div class="t l" style="top:710.00px;left:218.80px">День Свободи</div>
<div class="t l" style="top:722.60px;left:70.90px">1 трав. 2005 р.</div>
<div class="t l" style="top:722.60px;left:218.80px">День праці</div>
<div class="t l" style="top:647.80px;left:388.10px">5 трав. 2005 р.</div>
<div class="t l" style="top:647.80px;left:549.60px">Свято Вознесіння</div>
<div class="t l" style="top:660.10px;left:388.10px">12 трав. 2005 р.</div>
<div class="t l" style="top:660.10px;left:549.60px">День святої Йоани</div>
<div class="t l" style="top:672.50px;left:388.10px">16 трав. 2005 р.</div>
<div class="t l" style="top:672.50px;left:549.60px">День Азорських островів</div>
<div class="t l" style="top:685.00px;left:388.10px">22 трав. 2005 р.</div>
<div class="t l" style="top:685.00px;left:549.60px">День Лейрії</div>
<div class="t l" style="top:697.60px;left:388.10px">23 трав. 2005 р.</div>
<div class="t l" style="top:697.60px;left:549.60px">День Порталегре</div>
<div class="t l" style="top:710.00px;left:388.10px">26 трав. 2005 р.</div>
<div class="t l" style="top:710.00px;left:549.60px">Тіло Христове</div>
<div class="t l" style="top:722.60px;left:388.10px">10 черв. 2005 р.</div>
<div class="t l" style="top:722.60px;left:549.60px">День Португалії</div>
<div class="t l" style="top:647.80px;left:745.50px">13 черв. 2005 р.</div>
<div class="t l" style="top:647.80px;left:909.60px">День святого Антонія</div>
<div class="t l" style="top:660.10px;left:745.50px">24 черв. 2005 р.</div>
<div class="t l" style="top:660.10px;left:909.60px">Іванів день</div>
<div class="t l" style="top:672.50px;left:745.50px">29 черв. 2005 р.</div>
<div class="t l" style="top:672.50px;left:909.60px">День Святого Петра</div>
<div class="t l" style="top:685.00px;left:745.50px">4 лип. 2005 р.</div>
<div class="t l" style="top:685.00px;left:909.60px">День святої Єлизавети</div>
<div class="t l" style="top:697.60px;left:745.50px">15 серп. 2005 р.</div>
<div class="t l" style="top:697.60px;left:909.60px">Успіння Марії</div>
<div class="t l" style="top:710.00px;left:745.50px">20 серп. 2005 р.</div>
<div class="t l" style="top:710.00px;left:909.60px">Богоматір Скорботна</div>
<div class="t l" style="top:722.60px;left:745.50px">22 серп. 2005 р.</div>
<div class="t l" style="top:722.60px;left:909.60px">Богоматір Благодаті</div>
</body></html>
